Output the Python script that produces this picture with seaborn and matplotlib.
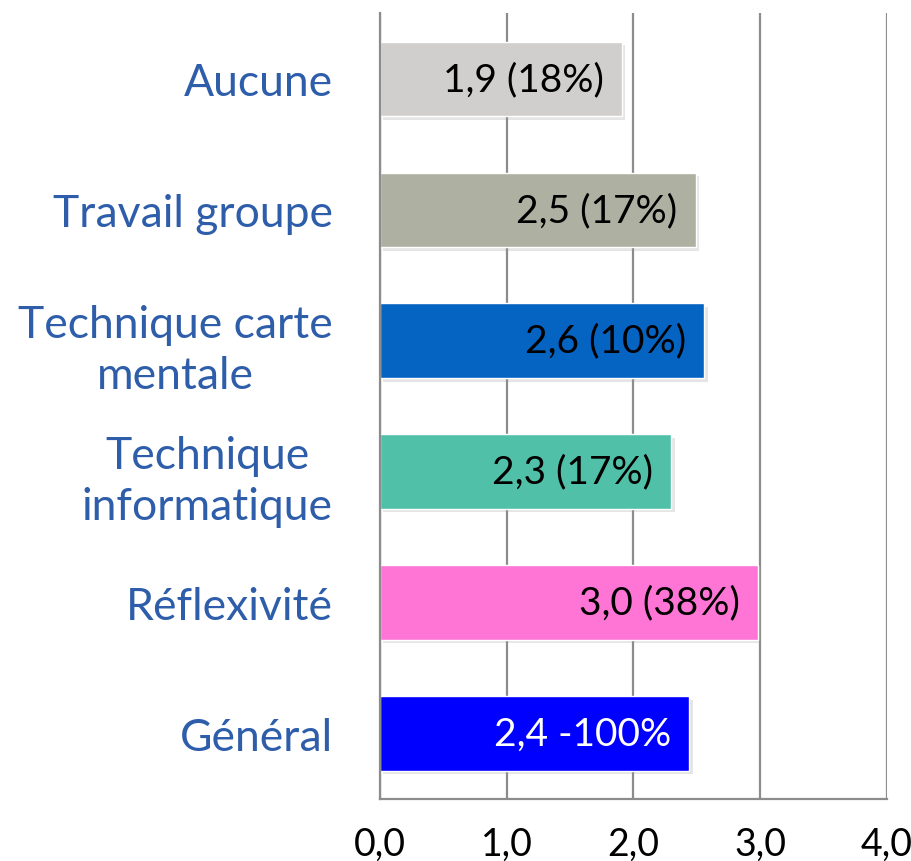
import matplotlib
matplotlib.use("Agg")
import matplotlib.pyplot as plt
import matplotlib.patheffects as pe
import seaborn as sns
import pandas as pd

categories = ["Aucune", "Travail groupe", "Technique carte\nmentale",
              "Technique\ninformatique", "Réflexivité", "Général"]
scores = [1.91, 2.49, 2.56, 2.30, 2.98, 2.44]
share_labels = ["(18%)", "(17%)", "(10%)", "(17%)", "(38%)", "-100%"]
bar_colors = ["#D0CFCD", "#AEB0A2", "#0563C1", "#50C1A8", "#FF75D5", "#0000FF"]
label_colors = ["black", "black", "black", "black", "black", "white"]
x_ticks = [0, 1, 2, 3, 4]

sns.set_theme(style="white")
plt.rcParams["font.family"] = ["Lato", "DejaVu Sans"]

df = pd.DataFrame({"category": categories, "score": scores})

fig = plt.figure(figsize=(9.12, 8.62), dpi=100)
ax = fig.add_axes([0.4164, 0.0719, 0.9726 - 0.4164, 0.9832 - 0.0719])

sns.barplot(data=df, y="category", x="score", hue="category",
            palette=bar_colors, orient="h", width=0.57, legend=False,
            saturation=1, ax=ax)

grid_color = "#8C8C8C"
ax.set_xlim(0, 4)
ax.set_xticks(x_ticks)
ax.set_xticklabels([f"{t:.1f}".replace(".", ",") for t in x_ticks],
                   fontsize=27, color="black")
ax.xaxis.grid(True, color=grid_color, linewidth=1.6)
ax.yaxis.grid(False)
ax.set_axisbelow(True)
for side in ["top", "right"]:
    ax.spines[side].set_visible(False)
for side in ["left", "bottom"]:
    ax.spines[side].set_color(grid_color)
    ax.spines[side].set_linewidth(1.6)
ax.tick_params(axis="x", length=0, pad=19)
ax.tick_params(axis="y", length=0, pad=34)
ax.set_xlabel("")
ax.set_ylabel("")

for lbl in ax.get_yticklabels():
    lbl.set_fontsize(32)
    lbl.set_color("#2E5DAA")
    lbl.set_multialignment("center")
    lbl.set_linespacing(1.3)

# Soft drop shadow under each bar
for patch in ax.patches:
    patch.set_path_effects([
        pe.SimplePatchShadow(offset=(2.5, -2.5), shadow_rgbFace="#9A9A9A", alpha=0.25),
        pe.Normal(),
    ])

# Value labels, right-aligned inside the end of each bar
for i, (v, s, c) in enumerate(zip(scores, share_labels, label_colors)):
    text = f"{v:.1f}".replace(".", ",") + " " + s
    ax.annotate(text, xy=(v, i), xytext=(-13, 0), textcoords="offset points",
                ha="right", va="center", fontsize=28, color=c)

fig.savefig("out.png", dpi=100)
